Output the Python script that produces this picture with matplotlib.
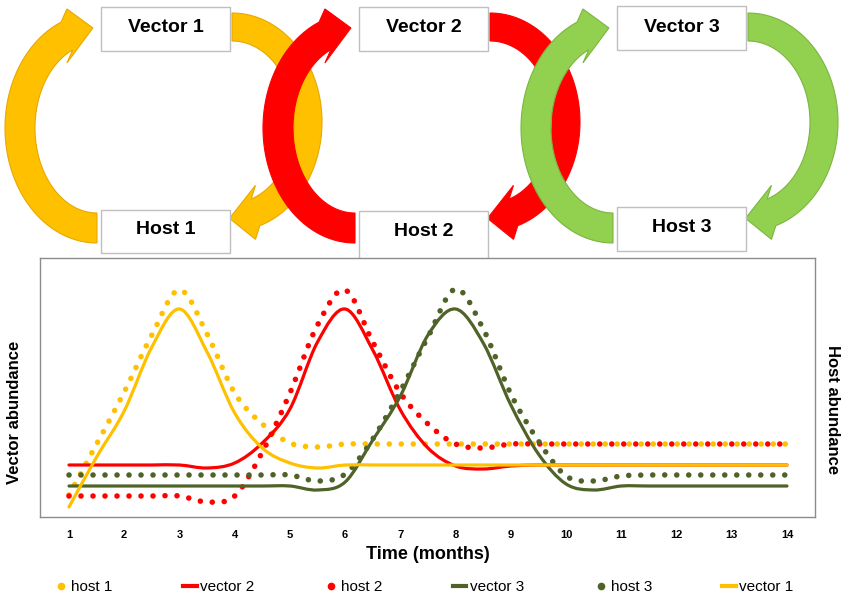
import numpy as np
import matplotlib
matplotlib.use('Agg')
import matplotlib.pyplot as plt
from matplotlib.path import Path
from matplotlib.patches import PathPatch, Polygon, Rectangle
from matplotlib.lines import Line2D

plt.rcParams['font.family'] = ['Liberation Sans', 'DejaVu Sans']

# time axis, half-month steps
months = [1, 1.5, 2, 2.5, 3, 3.5, 4, 4.5, 5, 5.5, 6, 6.5, 7, 7.5,
          8, 8.5, 9, 9.5, 10, 10.5, 11, 11.5, 12, 12.5, 13, 13.5, 14]
month_labels = ['1', '2', '3', '4', '5', '6', '7', '8', '9', '10', '11', '12', '13', '14']

# abundance (arbitrary units)
host1 = [22, 73, 125, 182, 227, 183, 124, 93, 74, 70, 73, 73, 73, 73,
         73, 73, 73, 73, 73, 73, 73, 73, 73, 73, 73, 73, 73]
vector2 = [52, 52, 52, 52, 52, 49, 54, 74, 108, 175, 208, 167, 107, 69,
           51, 48, 51, 52, 52, 52, 52, 52, 52, 52, 52, 52, 52]
host2 = [21, 21, 21, 21, 21, 15, 21, 65, 124, 192, 227, 175, 124, 93,
         73, 69, 73, 73, 73, 73, 73, 73, 73, 73, 73, 73, 73]
vector3 = [31, 31, 31, 31, 31, 31, 31, 31, 31, 27, 35, 77, 121, 182,
           208, 174, 112, 63, 33, 27, 31, 31, 31, 31, 31, 31, 31]
host3 = [42, 42, 42, 42, 42, 42, 42, 42, 42, 36, 43, 78, 126, 180,
         228, 188, 123, 76, 41, 36, 41, 42, 42, 42, 42, 42, 42]
vector1 = [10, 60, 106, 170, 208, 165, 104, 69, 54, 49, 52, 52, 52, 52,
           52, 52, 52, 52, 52, 52, 52, 52, 52, 52, 52, 52, 52]

series_names = ['host 1', 'vector 2', 'host 2', 'vector 3', 'host 3', 'vector 1']
series_values = [host1, vector2, host2, vector3, host3, vector1]
series_colors = ['#FFC000', '#FF0000', '#FF0000', '#4F6228', '#4F6228', '#FFC000']
series_dotted = [True, False, True, False, True, False]

# top diagram
vector_boxes = ['Vector 1', 'Vector 2', 'Vector 3']
host_boxes = ['Host 1', 'Host 2', 'Host 3']
cycle_colors = ['#FFC000', '#FF0000', '#92D050']
cycle_edges = ['#E8A800', '#FF0000', '#7DB540']


def smooth_path(x, y):
    # smoothed line like the spreadsheet "smooth line" option (Catmull-Rom as Bezier)
    pts = np.column_stack([x, y]).astype(float)
    p = np.vstack([pts[0], pts, pts[-1]])
    verts = [pts[0]]
    codes = [Path.MOVETO]
    for i in range(1, len(p) - 2):
        p0, p1, p2, p3 = p[i - 1], p[i], p[i + 1], p[i + 2]
        verts += [p1 + (p2 - p0) / 6, p2 - (p3 - p1) / 6, p2]
        codes += [Path.CURVE4] * 3
    return Path(verts, codes)


def curved_arrow(ax, cx, cy, a, b, t0, t1, w, head_w, head_l, tip_dy, color, edge, z):
    t = np.radians(np.linspace(t0, t1, 90))
    outer = np.column_stack([cx + (a + w / 2) * np.cos(t), cy + (b + w / 2) * np.sin(t)])
    inner = np.column_stack([cx + (a - w / 2) * np.cos(t), cy + (b - w / 2) * np.sin(t)])
    te = t[-1]
    bx, by = cx + a * np.cos(te), cy + b * np.sin(te)
    sx = np.sign(-a * np.sin(te) * np.sign(t1 - t0))
    sy = np.sign(b * np.cos(te) * np.sign(t1 - t0))
    so = np.sign(outer[-1, 1] - by)
    tip = [bx + head_l * sx, by + tip_dy * sy]
    pts = np.vstack([outer, [[bx, by + so * head_w], tip, [bx, by - so * head_w]], inner[::-1]])
    ax.add_patch(Polygon(pts, closed=True, facecolor=color, edgecolor=edge, lw=0.8, zorder=z))


fig = plt.figure(figsize=(8.43, 5.99), dpi=100)

top = fig.add_axes([0, 0, 1, 1])
top.set_xlim(0, 843)
top.set_ylim(599, 0)
top.axis('off')

vec_x = [101, 359, 617]
vec_y = [7, 7, 6]
host_y = [210, 211, 207]
host_h = [43, 52, 44]
box_w = 129

z = 1
for i in range(3):
    left = vec_x[i]
    right = vec_x[i] + box_w
    # host -> vector (left arc)
    curved_arrow(top, left - 4, 128, 77, 100, 90, 247, 30, 27, 26, 8,
                 cycle_colors[i], cycle_edges[i], z)
    # vector -> host (right arc)
    curved_arrow(top, right + 2, 122, 76, 95, -90, 72, 28, 27, 26, 6,
                 cycle_colors[i], cycle_edges[i], z + 1)
    z += 2

for i in range(3):
    top.add_patch(Rectangle((vec_x[i], vec_y[i]), box_w, 44, facecolor='white',
                            edgecolor='#BFBFBF', lw=1, zorder=10))
    top.add_patch(Rectangle((vec_x[i], host_y[i]), box_w, host_h[i], facecolor='white',
                            edgecolor='#BFBFBF', lw=1, zorder=10))
    top.text(vec_x[i] + box_w / 2, vec_y[i] + 21, vector_boxes[i], ha='center', va='center',
             fontsize=14, fontweight='bold', zorder=11)
    top.text(vec_x[i] + box_w / 2, host_y[i] + 20, host_boxes[i], ha='center', va='center',
             fontsize=14, fontweight='bold', zorder=11)

# chart
ax = fig.add_axes([40 / 843, 1 - 517 / 599, 775 / 843, 259 / 599])
ax.set_facecolor('white')
for name, vals, col, dotted in zip(series_names, series_values, series_colors, series_dotted):
    if dotted:
        patch = PathPatch(smooth_path(months, vals), fill=False, edgecolor=col, lw=4.0,
                          linestyle=(0, (0.01, 2.15)), capstyle='round')
    else:
        patch = PathPatch(smooth_path(months, vals), fill=False, edgecolor=col, lw=2.3,
                          capstyle='round')
    ax.add_patch(patch)

ax.set_xlim(0.475, 14.507)
ax.set_ylim(0, 259)
ax.set_yticks([])
ax.set_xticks(range(1, 15))
ax.set_xticklabels(month_labels, fontweight='bold', fontsize=8)
ax.tick_params(axis='x', length=0, pad=9)
for sp in ax.spines.values():
    sp.set_color('#8C8C8C')
    sp.set_linewidth(1)
ax.set_xlabel('Time (months)', fontsize=13, fontweight='bold', labelpad=5)

fig.text(15 / 843, 1 - 412 / 599, 'Vector abundance', rotation=90, ha='center', va='center',
         fontsize=12, fontweight='bold')
fig.text(832 / 843, 1 - 410 / 599, 'Host abundance', rotation=-90, ha='center', va='center',
         fontsize=12, fontweight='bold')

handles = []
for name, col, dotted in zip(series_names, series_colors, series_dotted):
    if dotted:
        handles.append(Line2D([], [], color=col, marker='o', ls='none', markersize=4.5))
    else:
        handles.append(Line2D([], [], color=col, lw=3))
fig.legend(handles, series_names, ncol=6, loc='center', bbox_to_anchor=(424 / 843, 1 - 587 / 599),
           frameon=False, fontsize=11, handlelength=0.9, handletextpad=0.2, columnspacing=4.6)

fig.savefig('out.png', dpi=100)
